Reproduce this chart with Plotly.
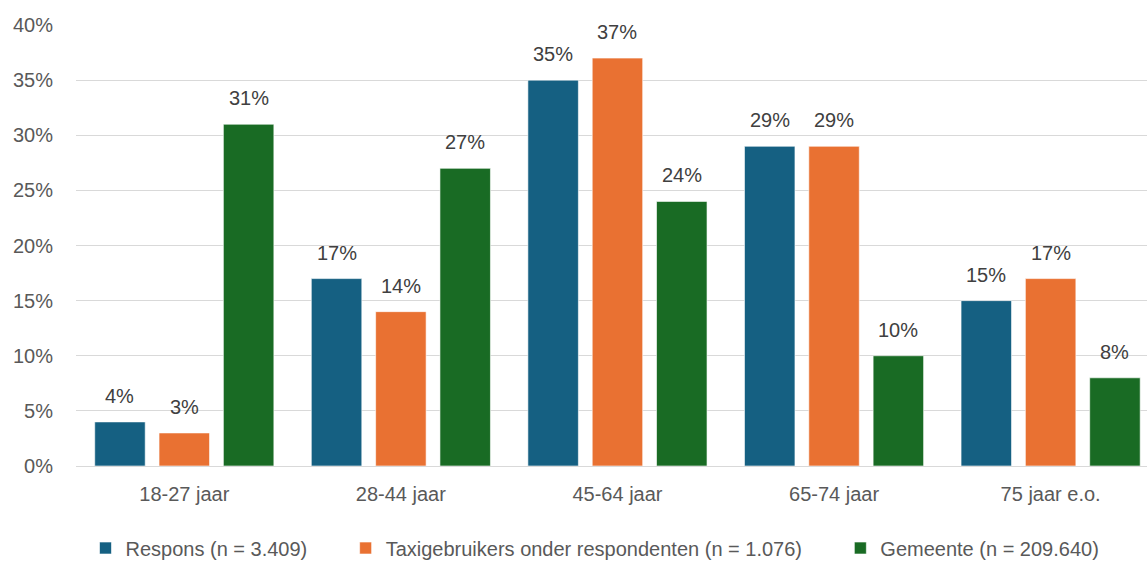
import plotly.graph_objects as go

categories = ["18-27 jaar", "28-44 jaar", "45-64 jaar", "65-74 jaar", "75 jaar e.o."]
respons = [4, 17, 35, 29, 15]
taxigebruikers = [3, 14, 37, 29, 17]
gemeente = [31, 27, 24, 10, 8]

series = [
    ("Respons (n = 3.409)", respons, "#156082"),
    ("Taxigebruikers onder respondenten (n = 1.076)", taxigebruikers, "#E97132"),
    ("Gemeente (n = 209.640)", gemeente, "#196B24"),
]

pad = "\u00a0" * 6  # extra space between legend entries

fig = go.Figure()
for name, values, color in series:
    fig.add_trace(go.Bar(
        x=categories, y=values, name=name + pad,
        marker=dict(color=color, line=dict(color="rgba(255,255,255,0.6)", width=1)),
    ))

# value labels above each bar
slot_px = 64.3
for i, (name, values, color) in enumerate(series):
    for cat, v in zip(categories, values):
        fig.add_annotation(
            x=cat, y=v, text=f"{v}%", showarrow=False,
            xshift=(i - 1) * slot_px, yshift=26,
            font=dict(family="Liberation Sans, Arial, sans-serif", size=20, color="#404040"),
        )

fig.update_layout(
    width=1147, height=561,
    margin=dict(l=76, r=0, t=25, b=95, autoexpand=False),
    barmode="group", bargap=0.109, bargroupgap=0.215,
    plot_bgcolor="white", paper_bgcolor="white",
    font=dict(family="Liberation Sans, Arial, sans-serif", size=20, color="#595959"),
    legend=dict(
        orientation="h", x=0.5, xanchor="center", y=-0.186, yanchor="middle",
        font=dict(family="Liberation Sans, Arial, sans-serif", size=20, color="#595959"),
        itemwidth=30, tracegroupgap=0,
    ),
    xaxis=dict(showline=True, linecolor="#D9D9D9", linewidth=1, ticks="",
               range=[-0.5, 4.445], ticklabelstandoff=10, automargin=False),
    yaxis=dict(range=[0, 40], dtick=5, ticksuffix="%", showgrid=True,
               gridcolor="#D9D9D9", gridwidth=1, zeroline=False,
               ticklabelstandoff=22, automargin=False),
)

fig.write_html("out.html")
